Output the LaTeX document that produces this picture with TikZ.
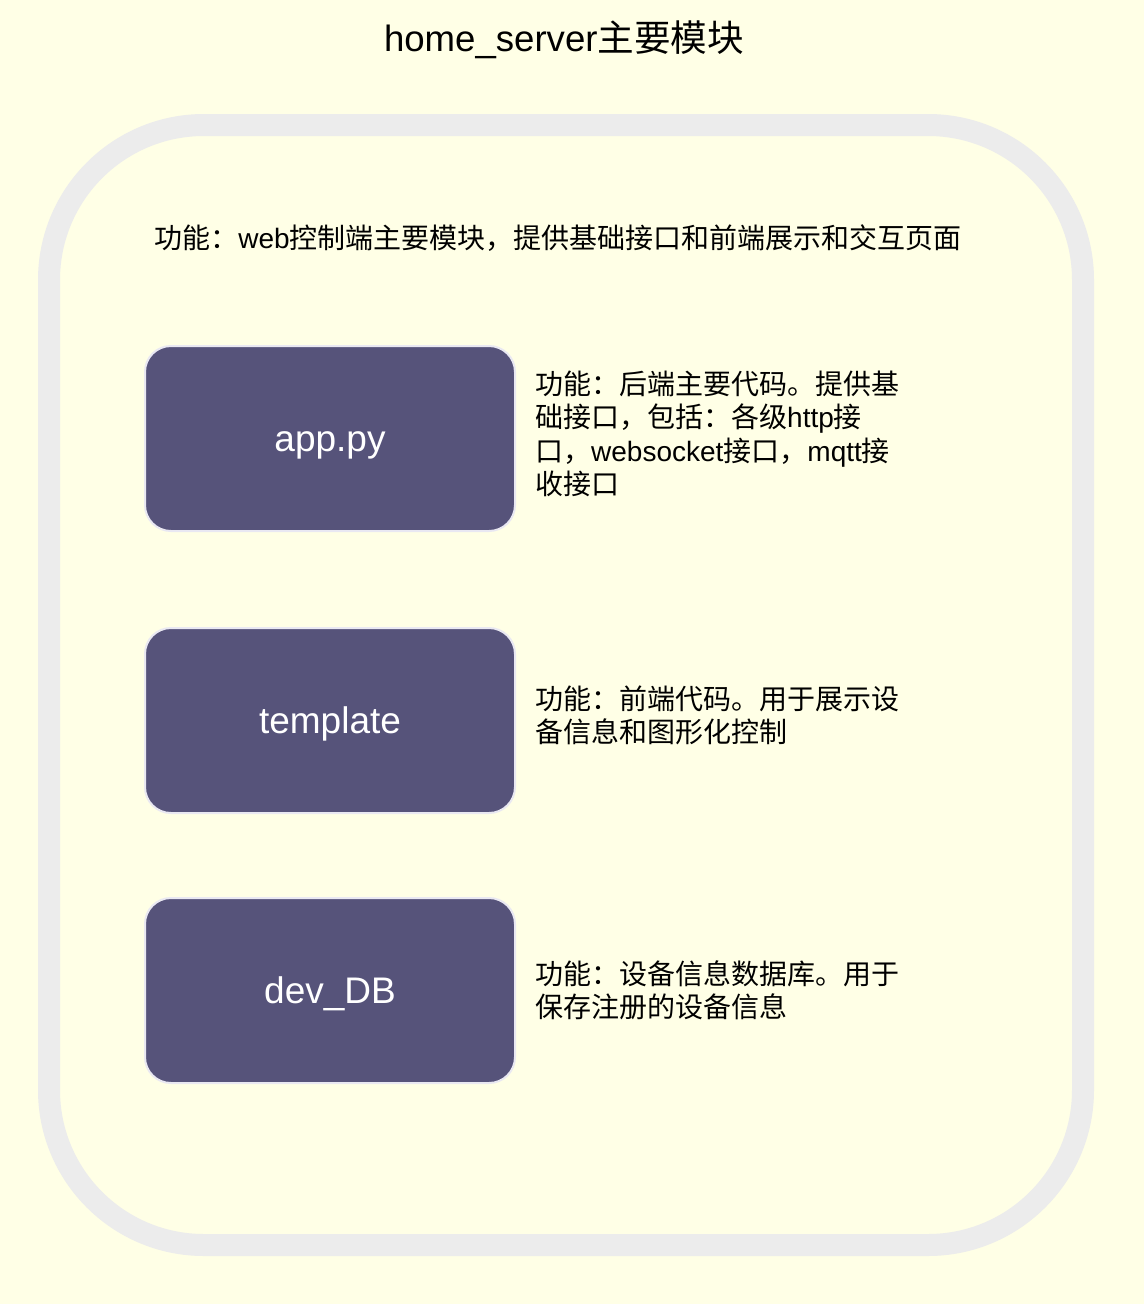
\documentclass[tikz,border=0pt]{standalone}
\usepackage{fontspec}
\setmainfont{Liberation Sans}
\newfontfamily\cjk{Noto Sans CJK SC}
\definecolor{bgc}{HTML}{FFFFE6}
\definecolor{framec}{HTML}{ECECEC}
\definecolor{boxc}{HTML}{56537A}
\definecolor{boxedge}{HTML}{E9E8F2}
\newcommand{\fs}[2]{\fontsize{#1}{#2}\selectfont}
\tikzset{
  modbox/.style={draw=boxedge, line width=2pt, fill=boxc, rounded corners=26pt,
    minimum width=370pt, minimum height=185pt, text=white, inner sep=0pt,
    text height=25pt, text depth=0pt, font=\fs{37}{40}},
  desc/.style={anchor=west, align=left, inner sep=0pt, font=\fs{28}{33.3}, text=black},
}
\begin{document}
\begin{tikzpicture}[x=1pt,y=-1pt]
\fill[bgc] (0,0) rectangle (1144,1304);
\useasboundingbox (0,0) rectangle (1144,1304);
\draw[framec, line width=22pt, rounded corners=155pt] (49,125) rectangle (1083,1245);
\node[font=\fs{36.6}{40}] (title) at (564,40) {home\_server{\cjk 主要模块}};
\node[font=\fs{28}{33}, inner sep=0pt] (main) at (558,238) {{\cjk 功能：}web{\cjk 控制端主要模块，提供基础接口和前端展示和交互页面}};
\node[modbox] (app) at (330,438.5) {app.py};
\node[modbox] (tpl) at (330,720.5) {template};
\node[modbox] (db) at (330,990.5) {dev\_DB};
\node[desc] (appd) at (535,434) {{\cjk 功能：后端主要代码。提供基}\\{\cjk 础接口，包括：各级}http{\cjk 接}\\{\cjk 口，}websocket{\cjk 接口，}mqtt{\cjk 接}\\{\cjk 收接口}};
\node[desc] (tpld) at (535,715.5) {{\cjk 功能：前端代码。用于展示设}\\{\cjk 备信息和图形化控制}};
\node[desc] (dbd) at (535,990.5) {{\cjk 功能：设备信息数据库。用于}\\{\cjk 保存注册的设备信息}};
\end{tikzpicture}
\end{document}
